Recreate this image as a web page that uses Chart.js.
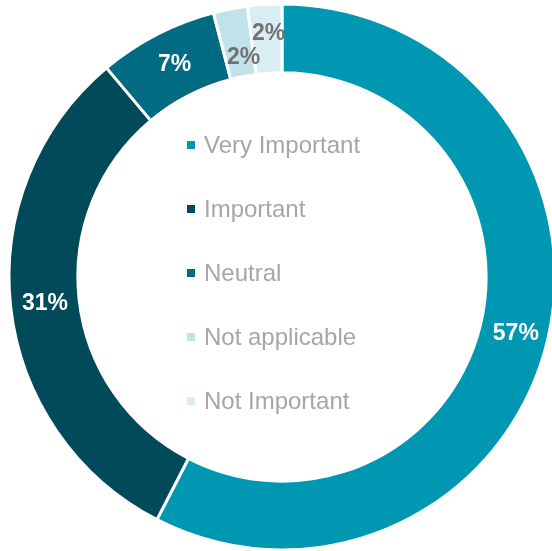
<!DOCTYPE html>
<html>
<head>
<meta charset="utf-8">
<script src="https://cdn.jsdelivr.net/npm/chart.js@4"></script>
<style>
  html, body { margin: 0; padding: 0; overflow: hidden; background: #ffffff; }
  canvas { display: block; }
</style>
</head>
<body>
<canvas id="importanceChart" width="564" height="554"></canvas>
<script>
const categories = ["Very Important", "Important", "Neutral", "Not applicable", "Not Important"];
const shares = [57, 31, 7, 2, 2];
const sliceColors = ["#0097b2", "#004a5a", "#006b82", "#c0e3eb", "#d8eef3"];
const labelColors = ["#ffffff", "#ffffff", "#ffffff", "#767171", "#767171"];

// percent labels on the ring, small slices nudged in/out so they don't collide
const sliceLabels = {
  id: "sliceLabels",
  afterDatasetsDraw(chart, args, opts) {
    const ctx = chart.ctx;
    const meta = chart.getDatasetMeta(0);
    ctx.save();
    ctx.font = "bold 23px 'Liberation Sans', Arial, sans-serif";
    ctx.textAlign = "center";
    ctx.textBaseline = "middle";
    meta.data.forEach((arc, i) => {
      const p = arc.getProps(["x", "y", "startAngle", "endAngle", "innerRadius", "outerRadius"], true);
      const mid = (p.startAngle + p.endAngle) / 2;
      const r = (p.innerRadius + p.outerRadius) / 2 + (opts.shift[i] || 0);
      ctx.fillStyle = labelColors[i];
      ctx.fillText(shares[i] + "%", p.x + Math.cos(mid) * r + (opts.dx[i] || 0), p.y + Math.sin(mid) * r);
    });
    ctx.restore();
  },
};

// legend sits inside the hole
const holeLegend = {
  id: "holeLegend",
  afterDraw(chart, args, opts) {
    const ctx = chart.ctx;
    ctx.save();
    ctx.font = "24px 'Liberation Sans', Arial, sans-serif";
    ctx.textAlign = "left";
    ctx.textBaseline = "middle";
    categories.forEach((name, i) => {
      const y = opts.top + i * opts.step;
      ctx.fillStyle = sliceColors[i];
      ctx.fillRect(opts.left, y - 4, 8, 8);
      ctx.fillStyle = "#a6a6a6";
      ctx.fillText(name, opts.left + 17, y + 1);
    });
    ctx.restore();
  },
};

new Chart(document.getElementById("importanceChart"), {
  type: "doughnut",
  data: {
    labels: categories,
    datasets: [
      {
        data: shares,
        backgroundColor: sliceColors,
        borderColor: "#ffffff",
        borderWidth: 3,
      },
    ],
  },
  options: {
    responsive: false,
    animation: false,
    radius: 273,
    cutout: 206,
    plugins: {
      legend: { display: false },
      tooltip: { enabled: false },
      sliceLabels: { shift: [0, 0, 0, -15, 5], dx: [2, 0, 2, 4, 2] },
      holeLegend: { left: 187, top: 145, step: 64 },
    },
  },
  plugins: [sliceLabels, holeLegend],
});
</script>
</body>
</html>
